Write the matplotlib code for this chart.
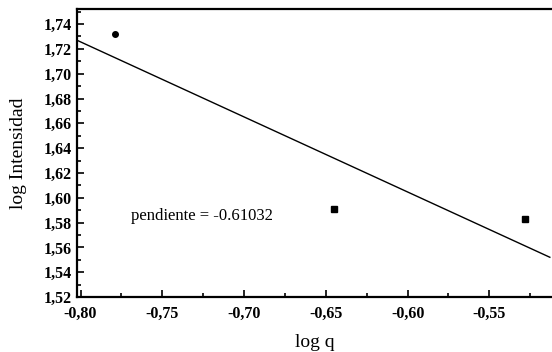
import numpy as np
import matplotlib
matplotlib.use("Agg")
import matplotlib.pyplot as plt
from matplotlib.ticker import MultipleLocator, FuncFormatter

# data
log_q = [-0.779, -0.645, -0.528]
log_int = [1.732, 1.591, 1.583]
slope_label = "pendiente = -0.61032"

plt.rcParams["font.family"] = ["Liberation Serif", "DejaVu Serif"]

fig = plt.figure(figsize=(5.52, 3.52), dpi=100)
ax = fig.add_axes([0.140, 0.156, 0.862, 0.818])

# least squares line through the points
slope, intercept = np.polyfit(log_q, log_int, 1)
xs = np.array([-0.802, -0.513])
ax.plot(xs, intercept + slope * xs, color="black", lw=1.0)

ax.plot(log_q[:1], log_int[:1], "o", color="black", ms=4)
ax.plot(log_q[1:], log_int[1:], "s", color="black", ms=3.8)

ax.text(-0.769, 1.585, slope_label, fontsize=12, va="center", ha="left")

ax.set_xlim(-0.802, -0.511)
ax.set_ylim(1.52, 1.752)

ax.xaxis.set_major_locator(MultipleLocator(0.05))
ax.xaxis.set_minor_locator(MultipleLocator(0.025))
ax.yaxis.set_major_locator(MultipleLocator(0.02))
ax.yaxis.set_minor_locator(MultipleLocator(0.01))
comma = FuncFormatter(lambda v, p: f"{v:.2f}".replace(".", ","))
ax.xaxis.set_major_formatter(comma)
ax.yaxis.set_major_formatter(comma)

ax.tick_params(which="both", direction="in", width=1.2, top=False, right=False)
ax.tick_params(which="major", length=5, labelsize=11.5)
ax.tick_params(axis="x", which="major", pad=6)
ax.tick_params(axis="y", which="major", pad=4)
ax.tick_params(which="minor", length=3)
for lab in ax.get_xticklabels() + ax.get_yticklabels():
    lab.set_fontweight("bold")

for side in ["left", "bottom", "top"]:
    ax.spines[side].set_linewidth(1.6)
ax.spines["right"].set_visible(False)

ax.set_xlabel("log q", fontsize=14, labelpad=9)
ax.set_ylabel("log Intensidad", fontsize=14, labelpad=12)

fig.savefig("out.png", dpi=100)
